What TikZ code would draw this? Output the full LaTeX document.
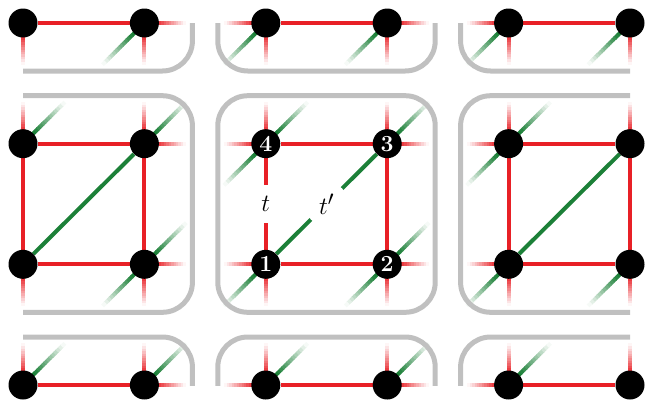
\documentclass[tikz,border=0pt]{standalone}
\usetikzlibrary{calc}
\definecolor{bondred}{RGB}{232,32,38}
\definecolor{bondgreen}{RGB}{28,128,56}
\definecolor{framegray}{RGB}{192,192,192}
\pgfdeclarelayer{bg}
\pgfsetlayers{bg,main}
\newcommand\fadestub[3]{%
  \draw[bond,#1] (#2.center) -- ($(#2.center)!0.105!(#3.center)$);
  \foreach \k in {0,...,11}{%
    \pgfmathsetmacro\sA{0.10+0.02*\k}%
    \pgfmathsetmacro\sB{0.125+0.02*\k}%
    \pgfmathtruncatemacro\pc{100-100*(\k+0.5)/12}%
    \draw[bond,#1!\pc!white] ($(#2.center)!\sA!(#3.center)$) -- ($(#2.center)!\sB!(#3.center)$);
  }%
}
\begin{document}
\begin{tikzpicture}[x=1pt,y=-1pt,
  dot/.style={circle,fill=black,minimum size=29pt,inner sep=0pt,text=white,
    font=\fontsize{23}{23}\selectfont\bfseries},
  bond/.style={line width=4pt},
  frame/.style={draw=framegray,line width=5pt,rounded corners=30pt},
  lbl/.style={fill=white,inner sep=0pt,font=\fontsize{28}{28}\selectfont}]
\useasboundingbox (0,0) rectangle (648,405);
% nodes
\foreach \i/\x in {0/23,1/144.4,4/508.6,5/630}
  \foreach \j/\y in {0/23,1/143.7,2/264.3,3/385}
    \node[dot] (n-\i-\j) at (\x,\y) {};
\node[dot] (n-2-0) at (265.8,23) {};
\node[dot] (n-3-0) at (387.2,23) {};
\node[dot] (n-2-1) at (265.8,143.7) {4};
\node[dot] (n-3-1) at (387.2,143.7) {3};
\node[dot] (n-2-2) at (265.8,264.3) {1};
\node[dot] (n-3-2) at (387.2,264.3) {2};
\node[dot] (n-2-3) at (265.8,385) {};
\node[dot] (n-3-3) at (387.2,385) {};
\begin{pgfonlayer}{bg}
% fading stubs: horizontal
\foreach \j in {0,...,3}
  \foreach \a/\b in {1/2,3/4}{
    \fadestub{bondred}{n-\a-\j}{n-\b-\j}
    \fadestub{bondred}{n-\b-\j}{n-\a-\j}
  }
% vertical
\foreach \i in {0,...,5}
  \foreach \a/\b in {0/1,2/3}{
    \fadestub{bondred}{n-\i-\a}{n-\i-\b}
    \fadestub{bondred}{n-\i-\b}{n-\i-\a}
  }
% diagonal
\foreach \a/\b in {0-1/1-0,1-1/2-0,2-1/3-0,3-1/4-0,4-1/5-0,1-2/2-1,3-2/4-1,0-3/1-2,1-3/2-2,2-3/3-2,3-3/4-2,4-3/5-2}{
    \fadestub{bondgreen}{n-\a}{n-\b}
    \fadestub{bondgreen}{n-\b}{n-\a}
  }
% full bonds
\foreach \j in {0,...,3}
  \foreach \a/\b in {0/1,2/3,4/5}
    \draw[bond,bondred] (n-\a-\j) -- (n-\b-\j);
\foreach \i in {0,...,5}
  \draw[bond,bondred] (n-\i-1) -- (n-\i-2);
\foreach \a/\b in {0/1,2/3,4/5}
  \draw[bond,bondgreen] (n-\a-2) -- (n-\b-1);
% frames
\begin{scope}
\clip (23,23) rectangle (630,385);
\foreach \xa/\xb in {-25/192.4,217.8/435.2,460.6/678}
  \foreach \ya/\yb in {-145.7/71,95.7/312.3,337/553.7}
    \draw[frame] (\xa,\ya) rectangle (\xb,\yb);
\end{scope}
\end{pgfonlayer}
% labels
\node[lbl,minimum width=16pt,minimum height=38pt] (lt) at ($(n-2-1)!0.5!(n-2-2)$) {$t$};
\node[lbl,circle,minimum size=44pt] (ltp) at ($(n-2-2)!0.5!(n-3-1)$) {$t'$};
\end{tikzpicture}
\end{document}
